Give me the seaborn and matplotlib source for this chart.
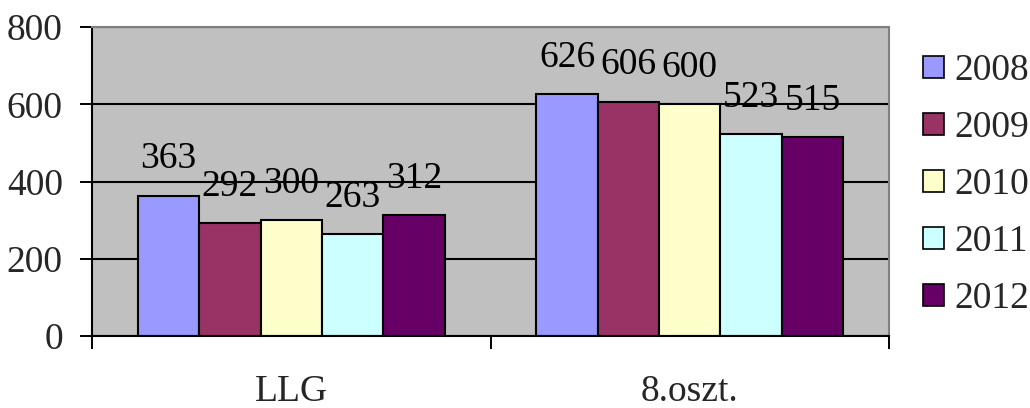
import matplotlib
matplotlib.use("Agg")
import matplotlib.pyplot as plt
import matplotlib.patches as mpatches
import seaborn as sns
import pandas as pd

categories = ["LLG", "8.oszt."]
years = ["2008", "2009", "2010", "2011", "2012"]
values_llg = [363, 292, 300, 263, 312]
values_8oszt = [626, 606, 600, 523, 515]
colors = ["#9999FF", "#993366", "#FFFFCC", "#CCFFFF", "#660066"]
yticks = [0, 200, 400, 600, 800]

rows = []
for cat, vals in zip(categories, [values_llg, values_8oszt]):
    for yr, v in zip(years, vals):
        rows.append({"cat": cat, "year": yr, "val": v})
df = pd.DataFrame(rows)

sns.set_theme(style="white")
plt.rcParams["font.family"] = ["Liberation Serif", "DejaVu Serif"]
FS = 27

fig = plt.figure(figsize=(10.30, 4.08), dpi=100)
ax = fig.add_axes([92/1030, 1 - 336/408, (889-92)/1030, (336-27)/408])
ax.set_facecolor("#C0C0C0")

sns.barplot(data=df, x="cat", y="val", hue="year", order=categories,
            hue_order=years, palette=colors, saturation=1, width=0.77,
            edgecolor="black", linewidth=1.5, legend=False, ax=ax, zorder=2)

for cont in ax.containers:
    ax.bar_label(cont, labels=[f"{int(v)}" for v in cont.datavalues],
                 padding=14, fontsize=FS, color="black")

ax.set_ylim(0, 800)
ax.set_yticks(yticks)
ax.set_yticklabels([str(t) for t in yticks])
ax.set_xlim(-0.5, 1.5)
ax.set_xticks([-0.5, 0.5, 1.5])
ax.set_xticklabels(["", "", ""])
ax.set_xticks([0, 1], minor=True)
ax.set_xticklabels(categories, minor=True)
ax.tick_params(axis="x", which="major", length=9, width=1.4, color="black",
               direction="out", bottom=True)
ax.tick_params(axis="x", which="minor", length=0, pad=28, labelsize=FS,
               bottom=True)
ax.tick_params(axis="y", which="major", length=9, width=1.4, color="black",
               direction="out", left=True, pad=12, labelsize=FS)
ax.set_xlabel("")
ax.set_ylabel("")

ax.set_axisbelow(True)
ax.yaxis.grid(True, color="black", linewidth=1.5)
ax.xaxis.grid(False)

for side in ["left", "bottom"]:
    ax.spines[side].set_color("black")
    ax.spines[side].set_linewidth(1.5)
for side in ["top", "right"]:
    ax.spines[side].set_color("#808080")
    ax.spines[side].set_linewidth(1.5)
for s in ax.spines.values():
    s.set_visible(True)
    s.set_zorder(3)

handles = [mpatches.Patch(facecolor=c, edgecolor="black", linewidth=1.2, label=y)
           for c, y in zip(colors, years)]
fig.legend(handles=handles, loc="center left",
           bbox_to_anchor=(923/1030, 1 - 185/408), frameon=False,
           fontsize=FS, handlelength=0.55, handleheight=0.55,
           handletextpad=0.3, labelspacing=0.6, borderpad=0,
           borderaxespad=0)

fig.savefig("out.png", dpi=100)
